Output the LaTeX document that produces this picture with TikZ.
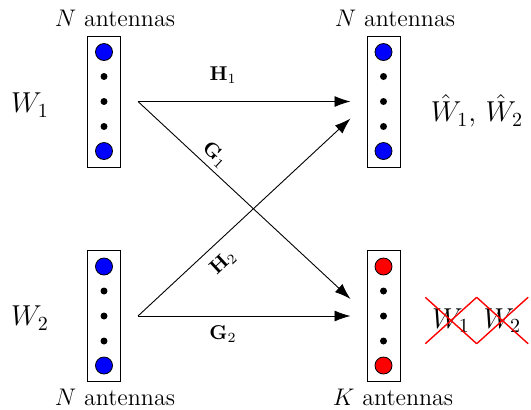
\documentclass[tikz,border=0pt]{standalone}
\usepackage{amsmath}
\usepackage{tikz}
\usetikzlibrary{arrows.meta, positioning, calc, shapes.misc}
\definecolor{txBlue}{RGB}{0,0,255}
\definecolor{rxRed}{RGB}{255,0,0}

\begin{document}
\begin{tikzpicture}[
    x=0.5pt, y=-0.5pt,
    ant/.style={rectangle, draw, line width=0.5pt, minimum width=16.5pt, minimum height=65.5pt, inner sep=0pt},
    tx/.style={circle, draw, line width=0.4pt, fill=txBlue, minimum size=8.5pt, inner sep=0pt},
    rx/.style={circle, draw, line width=0.4pt, fill=rxRed, minimum size=8.5pt, inner sep=0pt},
    dt/.style={circle, fill=black, minimum size=3.5pt, inner sep=0pt},
    antcap/.style={font=\large, inner sep=0pt},
    msg/.style={font=\Large, inner sep=0pt},
    link/.style={-{Latex[length=8pt, width=5.5pt]}, line width=0.45pt},
    chl/.style={font=\normalsize, inner sep=1pt},
    gone/.style={cross out, draw=rxRed, line width=0.7pt, font=\Large, minimum width=25pt, minimum height=22.5pt, inner sep=0pt},
]
    \useasboundingbox (0,0) rectangle (531,409);

    % antenna arrays
    \node[ant] (t1) at (104,101.5) {};
    \node[ant] (t2) at (104,316) {};
    \node[ant] (r1) at (383.5,101.5) {};
    \node[ant] (r2) at (383.5,316) {};
    \foreach \b/\c in {t1/tx, t2/tx, r1/tx, r2/rx} {
        \node[\c] (\b a) at ($(\b)+(0,-49.5)$) {};
        \node[\c] (\b z) at ($(\b)+(0,49.5)$) {};
        \foreach \k/\n in {-25/1, 0/2, 25/3}
            \node[dt] (\b d\n) at ($(\b)+(0,\k)$) {};
    }

    % captions
    \node[antcap] (nt1) at (115,18) {$N$ antennas};
    \node[antcap] (nr1) at (395,18) {$N$ antennas};
    \node[antcap] (nt2) at (115,397) {$N$ antennas};
    \node[antcap] (kr2) at (393,397) {$K$ antennas};

    % messages
    \node[msg] (w1) at (30,105) {$W_1$};
    \node[msg] (w2) at (30,318) {$W_2$};
    \node[msg] (wh) at (477,111) {$\hat{W}_1$, $\hat{W}_2$};
    \node[gone] (x1) at (451,320.5) {$W_1$};
    \node[gone, right=0pt of x1] (x2) {$W_2$};

    % channels
    \coordinate (s1) at ($(t1.east)+(17,0)$);
    \coordinate (s2) at ($(t2.east)+(17,0)$);
    \coordinate (e1) at ($(r1.west)+(-16,0)$);
    \coordinate (e1b) at ($(r1.west)+(-16,17)$);
    \coordinate (e2) at ($(r2.west)+(-16,0)$);
    \coordinate (e2a) at ($(r2.west)+(-16,-17)$);
    \draw[link] (s1) -- node[chl, pos=0.4, above=8pt] {$\mathbf{H}_1$} (e1);
    \draw[link] (s1) -- node[chl, pos=0.32, sloped, above=1.2pt] {$\mathbf{G}_1$} (e2a);
    \draw[link] (s2) -- node[chl, pos=0.34, sloped, below=4pt] {$\mathbf{H}_2$} (e1b);
    \draw[link] (s2) -- node[chl, pos=0.4, below=3.6pt] {$\mathbf{G}_2$} (e2);
\end{tikzpicture}
\end{document}
